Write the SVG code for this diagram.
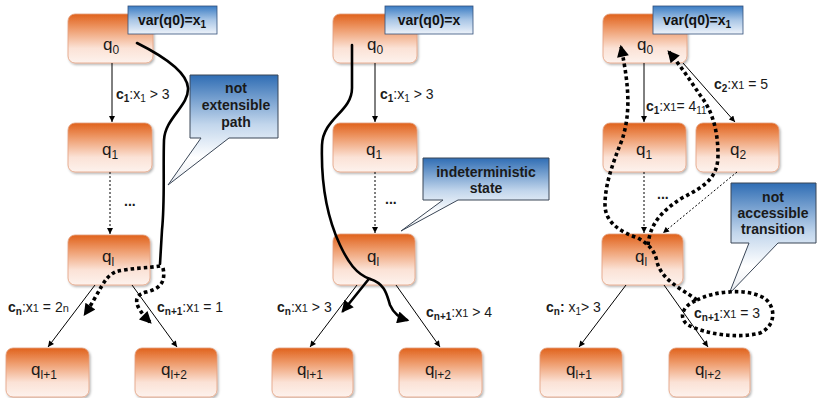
<svg xmlns="http://www.w3.org/2000/svg" width="818" height="398" viewBox="0 0 818 398">
<style>
.node{fill:url(#ng);stroke:#e3a07e;stroke-width:0.8;filter:url(#sh)}
.var{fill:url(#vg);stroke:#34507a;stroke-width:0.8}
.call{fill:url(#cg);stroke:#3a4656;stroke-width:1}
.nt{font-family:"Liberation Sans",Arial,sans-serif;font-size:17px;fill:#1a1a1a;text-anchor:middle}
.ns{font-size:12px}
.vt{font-family:"Liberation Sans",Arial,sans-serif;font-size:14px;font-weight:bold;fill:#111;text-anchor:middle}
.ct{font-family:"Liberation Sans",Arial,sans-serif;font-size:14px;font-weight:bold;fill:#1a1a1a;text-anchor:middle}
.lbl{font-family:"Liberation Sans",Arial,sans-serif;font-size:14px;fill:#1a1a1a}
.b{font-weight:bold}
.s{font-size:10px}
.sm{font-size:11px}
.ln{fill:none;stroke:#000;stroke-width:1;marker-end:url(#at)}
.dl{fill:none;stroke:#000;stroke-width:1;stroke-dasharray:2,2;marker-end:url(#at)}
.thick{fill:none;stroke:#000;stroke-width:2.6;stroke-linecap:round}
.dot{fill:none;stroke:#000;stroke-width:3.6;stroke-dasharray:3.5,3}
</style>
<defs>
<linearGradient id="ng" x1="0" y1="0" x2="0" y2="1">
<stop offset="0" stop-color="#e0621c"/>
<stop offset="0.3" stop-color="#ee9a6a"/>
<stop offset="0.7" stop-color="#fbe2d6"/>
<stop offset="1" stop-color="#fdf2ed"/>
</linearGradient>
<linearGradient id="vg" x1="0" y1="0" x2="0" y2="1">
<stop offset="0" stop-color="#3a7cc4"/>
<stop offset="0.5" stop-color="#a9c6e6"/>
<stop offset="1" stop-color="#eef3fa"/>
</linearGradient>
<linearGradient id="cg" x1="0" y1="0" x2="0" y2="1">
<stop offset="0" stop-color="#2f6db4"/>
<stop offset="0.45" stop-color="#c2d6ec"/>
<stop offset="0.75" stop-color="#ffffff"/>
<stop offset="1" stop-color="#e8ecf2"/>
</linearGradient>
<filter id="sh" x="-10%" y="-10%" width="130%" height="130%">
<feDropShadow dx="1.2" dy="1.5" stdDeviation="1" flood-color="#000" flood-opacity="0.3"/>
</filter>
<marker id="at" viewBox="0 0 10 10" refX="10" refY="5" markerWidth="7" markerHeight="6" markerUnits="userSpaceOnUse" orient="auto">
<path d="M0,0 L10,5 L0,10 z" fill="#000"/>
</marker>
<marker id="ak" viewBox="0 0 10 10" refX="8" refY="5" markerWidth="14" markerHeight="12" markerUnits="userSpaceOnUse" orient="auto">
<path d="M0,0 L10,5 L0,10 z" fill="#000"/>
</marker>
</defs>

<!-- Panel 1 nodes -->
<g id="p1-q0"><rect x="68" y="14" width="85" height="49" rx="7" class="node"/><text x="111" y="50" class="nt">q<tspan class="ns" dy="4">0</tspan></text></g>
<g id="p1-var"><rect x="128" y="6" width="89" height="28" class="var"/><text x="172" y="25" class="vt">var(q0)=x<tspan dy="3" font-size="10">1</tspan></text></g>
<g id="p1-q1"><rect x="68" y="123" width="84" height="49" rx="7" class="node"/><text x="110" y="155" class="nt">q<tspan class="ns" dy="4">1</tspan></text></g>
<g id="p1-ql"><rect x="68" y="235" width="82" height="50" rx="7" class="node"/><text x="108" y="262" class="nt">q<tspan class="ns" dy="4">l</tspan></text></g>
<g id="p1-ql1"><rect x="6" y="348" width="83" height="49" rx="7" class="node"/><text x="44" y="375" class="nt">q<tspan class="ns" dy="4">l+1</tspan></text></g>
<g id="p1-ql2"><rect x="135" y="348" width="82" height="49" rx="7" class="node"/><text x="174" y="375" class="nt">q<tspan class="ns" dy="4">l+2</tspan></text></g>
<g id="p1-callout"><path class="call" d="M190,75 H278 V138 H229 L168,185 L201,138 H190 Z"/><text x="236" y="93" class="ct">not</text><text x="236" y="110" class="ct">extensible</text><text x="236" y="127" class="ct">path</text></g>

<!-- Panel 2 nodes -->
<g id="p2-q0"><rect x="333" y="14" width="84" height="49" rx="7" class="node"/><text x="375" y="50" class="nt">q<tspan class="ns" dy="4">0</tspan></text></g>
<g id="p2-var"><rect x="385" y="6" width="88" height="28" class="var"/><text x="429" y="25" class="vt">var(q0)=x</text></g>
<g id="p2-q1"><rect x="333" y="123" width="84" height="49" rx="7" class="node"/><text x="374" y="155" class="nt">q<tspan class="ns" dy="4">1</tspan></text></g>
<g id="p2-ql"><rect x="333" y="234" width="82" height="51" rx="7" class="node"/><text x="373" y="262" class="nt">q<tspan class="ns" dy="4">l</tspan></text></g>
<g id="p2-ql1"><rect x="272" y="348" width="81" height="49" rx="7" class="node"/><text x="310" y="375" class="nt">q<tspan class="ns" dy="4">l+1</tspan></text></g>
<g id="p2-ql2"><rect x="399" y="348" width="83" height="49" rx="7" class="node"/><text x="438" y="375" class="nt">q<tspan class="ns" dy="4">l+2</tspan></text></g>
<g id="p2-callout"><path class="call" d="M423,158 H549 V200 H458 L401,231 L443,200 H423 Z"/><text x="486" y="177" class="ct" font-size="13">indeterministic</text><text x="486" y="193" class="ct" font-size="13">state</text></g>

<!-- Panel 3 nodes -->
<g id="p3-q0"><rect x="603" y="14" width="84" height="49" rx="7" class="node"/><text x="645" y="50" class="nt">q<tspan class="ns" dy="4">0</tspan></text></g>
<g id="p3-var"><rect x="653" y="6" width="90" height="28" class="var"/><text x="697" y="25" class="vt">var(q0)=x<tspan dy="3" font-size="10">1</tspan></text></g>
<g id="p3-q1"><rect x="603" y="123" width="83" height="49" rx="7" class="node"/><text x="644" y="155" class="nt">q<tspan class="ns" dy="4">1</tspan></text></g>
<g id="p3-q2"><rect x="696" y="123" width="83" height="49" rx="7" class="node"/><text x="738" y="155" class="nt">q<tspan class="ns" dy="4">2</tspan></text></g>
<g id="p3-ql"><rect x="602" y="234" width="81" height="51" rx="7" class="node"/><text x="641" y="262" class="nt">q<tspan class="ns" dy="4">l</tspan></text></g>
<g id="p3-ql1"><rect x="540" y="348" width="82" height="49" rx="7" class="node"/><text x="579" y="375" class="nt">q<tspan class="ns" dy="4">l+1</tspan></text></g>
<g id="p3-ql2"><rect x="669" y="348" width="81" height="49" rx="7" class="node"/><text x="708" y="375" class="nt">q<tspan class="ns" dy="4">l+2</tspan></text></g>
<g id="p3-callout"><path class="call" d="M731,183 H816 V243 H778 L729,294 L749,243 H731 Z"/><text x="773" y="202" class="ct">not</text><text x="773" y="218" class="ct">accessible</text><text x="773" y="234" class="ct">transition</text></g>

<!-- Connectors -->
<g id="connectors">
<path class="ln" d="M112,63 L112,122"/>
<path class="dl" d="M110,172 L110,234"/>
<path class="ln" d="M95,285 L48,347"/>
<path class="ln" d="M132,285 L177,347"/>
<path class="ln" d="M375,63 L375,122"/>
<path class="dl" d="M375,172 L375,233"/>
<path class="ln" d="M357,285 L310,347"/>
<path class="ln" d="M396,285 L440,347"/>
<path class="ln" d="M644,63 L644,122"/>
<path class="ln" d="M683,63 L735,122"/>
<path class="dl" d="M644,172 L644,233"/>
<path class="dl" d="M737,172 L663,233"/>
<path class="ln" d="M626,285 L579,347"/>
<path class="ln" d="M664,285 L708,347"/>
</g>

<!-- Paths -->
<g id="paths">
<path class="thick" d="M137,43 C155,52 187,70 188,88 C189,106 165,118 164,140 C163,170 165,200 162,230 L160,264"/>
<path class="dot" marker-end="url(#ak)" d="M160,266 C150,268 128,268 115,272 C103,278 100,292 85,314"/>
<path class="dot" marker-end="url(#ak)" d="M163,268 C166,282 160,289 146,292 C132,296 134,306 150,322"/>
<path class="thick" d="M352,45 L352,88 C352,112 323,118 322,145 C321,180 326,215 340,245 C348,262 356,274 370,279"/>
<path class="thick" marker-end="url(#ak)" d="M368,280 C360,290 352,300 343,311"/>
<path class="thick" marker-end="url(#ak)" d="M370,279 C386,284 387,296 390,305 C394,314 400,318 407,320"/>
<path class="dot" marker-end="url(#ak)" d="M697,300 C680,288 662,280 657,262 C655,250 648,244 638,238 C620,232 605,222 605,205 C605,185 612,165 622,140 C630,115 630,90 621,47"/>
<path class="dot" d="M697,300 C712,292 742,288 760,296 C776,302 778,325 760,333 C738,339 705,334 688,325 C678,318 682,306 697,300"/>
<path class="dot" marker-end="url(#ak)" d="M648,245 C650,225 660,212 682,198 C705,186 718,178 718,155 C718,130 712,110 700,95 C690,80 680,65 669,52"/>
</g>

<!-- Labels -->
<text x="116" y="99" class="lbl"><tspan class="b">c</tspan><tspan class="s b" dy="3">1</tspan><tspan dy="-3">:x</tspan><tspan class="s" dy="3">1</tspan><tspan dy="-3"> &gt; 3</tspan></text>
<text x="124" y="206" class="lbl b">...</text>
<text x="8" y="312" class="lbl"><tspan class="b">c</tspan><tspan class="s b" dy="3">n</tspan><tspan dy="-3">:x</tspan><tspan class="sm">1</tspan> = 2<tspan class="sm">n</tspan></text>
<text x="157" y="312" class="lbl"><tspan class="b">c</tspan><tspan class="s b" dy="3">n+1</tspan><tspan dy="-3">:x</tspan><tspan class="sm">1</tspan> = 1</text>

<text x="380" y="99" class="lbl"><tspan class="b">c</tspan><tspan class="s b" dy="3">1</tspan><tspan dy="-3">:x</tspan><tspan class="s" dy="3">1</tspan><tspan dy="-3"> &gt; 3</tspan></text>
<text x="385" y="204" class="lbl b">...</text>
<text x="277" y="312" class="lbl"><tspan class="b">c</tspan><tspan class="s b" dy="3">n</tspan><tspan dy="-3">:x</tspan><tspan class="sm">1</tspan> &gt; 3</text>
<text x="426" y="317" class="lbl"><tspan class="b">c</tspan><tspan class="s b" dy="3">n+1</tspan><tspan dy="-3">:x</tspan><tspan class="sm">1</tspan> &gt; 4</text>

<text x="646" y="111" class="lbl"><tspan class="b">c</tspan><tspan class="s b" dy="3">1</tspan><tspan dy="-3">:x</tspan><tspan class="sm">1</tspan>= 4<tspan class="s" dy="3">11</tspan></text>
<text x="714" y="89" class="lbl"><tspan class="b">c</tspan><tspan class="s b" dy="3">2</tspan><tspan dy="-3">:x</tspan><tspan class="sm">1</tspan> = 5</text>
<text x="657" y="199" class="lbl b">...</text>
<text x="546" y="312" class="lbl"><tspan class="b">c</tspan><tspan class="s b" dy="3">n</tspan><tspan class="b" dy="-3">:</tspan> x<tspan class="s" dy="3">1</tspan><tspan dy="-3">&gt; 3</tspan></text>
<text x="694" y="318" class="lbl"><tspan class="b">c</tspan><tspan class="s b" dy="3">n+1</tspan><tspan dy="-3">:x</tspan><tspan class="sm">1</tspan> = 3</text>
</svg>
